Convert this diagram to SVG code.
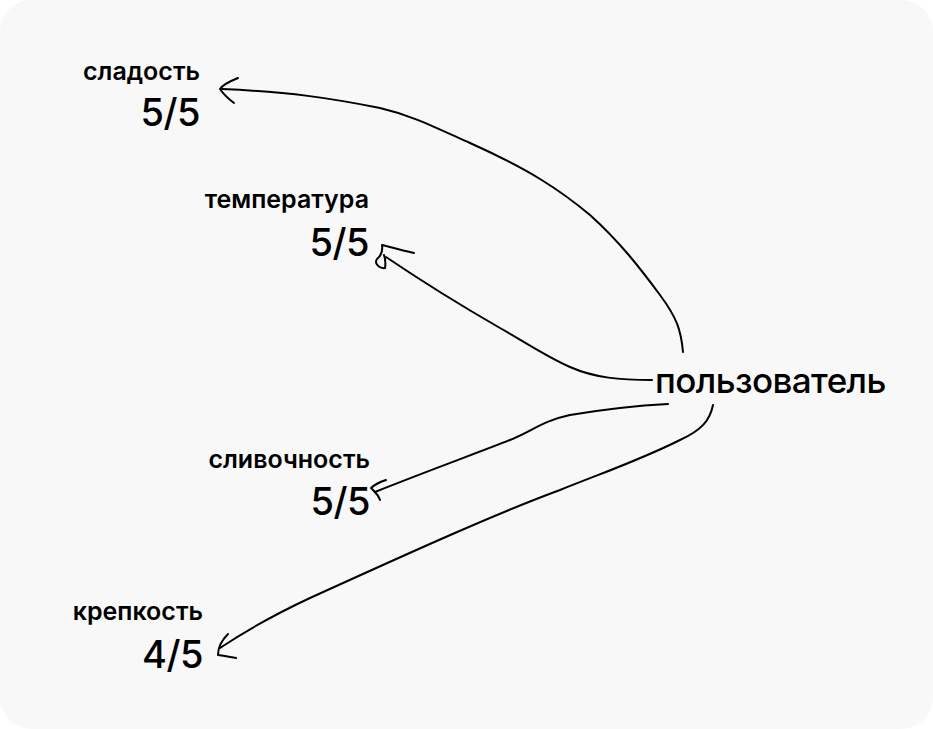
<svg xmlns="http://www.w3.org/2000/svg" width="933" height="729" viewBox="0 0 933 729">
<style>
.lbl{font-family:Inter,"Noto Sans","Liberation Sans",sans-serif;font-size:25px;font-weight:600;fill:#000;text-anchor:end;letter-spacing:0px}
.val{font-family:Inter,"Noto Sans","Liberation Sans",sans-serif;font-size:38px;font-weight:500;fill:#000;text-anchor:end;letter-spacing:-0.5px}
.usr{font-family:Inter,"Noto Sans","Liberation Sans",sans-serif;font-size:35px;font-weight:500;fill:#000;letter-spacing:-0.6px}
.ln{fill:none;stroke:#000;stroke-width:2;stroke-linecap:round;stroke-linejoin:round}
</style>
<rect x="0" y="0" width="933" height="729" fill="#fff"/>
<rect x="0" y="0" width="933" height="729" rx="32" fill="#f8f8f8"/>
<g id="sweet">
<text class="lbl" x="200" y="80">сладость</text>
<text class="val" x="200" y="126">5/5</text>
</g>
<g id="temp">
<text class="lbl" x="369" y="208">температура</text>
<text class="val" x="369" y="256">5/5</text>
</g>
<g id="cream">
<text class="lbl" x="370" y="468">сливочность</text>
<text class="val" x="370" y="515">5/5</text>
</g>
<g id="strength">
<text class="lbl" x="203" y="620">крепкость</text>
<text class="val" x="203" y="668">4/5</text>
</g>
<g id="user">
<text class="usr" x="655" y="393">пользователь</text>
</g>
<g id="connectors">
<path class="ln" d="M683,352 C681,330 677,318 660,295 C640,268 620,242 590,215 C560,190 530,170 470,143 C430,125 410,115 380,108 C330,98 290,92 222,89"/>
<path class="ln" d="M238,78 C228,82 222,86 220,89 C224,95 230,100 234,103"/>
<path class="ln" d="M652,380 C620,380 595,378 570,367 C545,356 525,342 500,328 C460,305 420,280 386,257"/>
<path class="ln" d="M414,253 C400,250 390,247 382,245 C383,252 381,256 377,259 C374,263 379,269 385,268 C386,262 385,258 384,255"/>
<path class="ln" d="M668,404 C630,406 600,410 570,415 C545,420 530,432 510,440 C480,452 430,470 375,492"/>
<path class="ln" d="M386,480 C380,482 374,485 371,488 C375,492 378,494 380,500"/>
<path class="ln" d="M713,405 C710,420 702,430 680,440 C640,460 610,470 560,490 C500,512 420,548 310,598 C280,612 250,628 220,648"/>
<path class="ln" d="M228,634 C222,640 218,648 218,655 C225,656 230,657 236,658"/>
</g>
</svg>
